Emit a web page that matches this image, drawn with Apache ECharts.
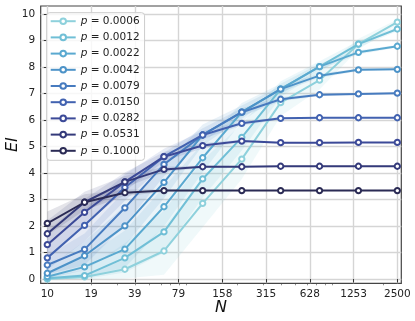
<!DOCTYPE html>
<html>
<head>
<meta charset="utf-8">
<script src="https://cdn.jsdelivr.net/npm/echarts@6/dist/echarts.min.js"></script>
<style>
html,body{margin:0;padding:0;background:#fff;}
#chart{width:415px;height:321px;}
</style>
</head>
<body>
<div id="chart"></div>
<script>
// Network sizes N (x values)
const N = [10, 18, 34, 63, 116, 215, 397, 733, 1354, 2500];
// x tick positions and labels
const tickN = [10, 19.94, 39.76, 79.28, 158.11, 315.29, 628.73, 1253.75, 2500];
const tickLabels = ['10', '19', '39', '79', '158', '315', '628', '1253', '2500'];
const minorTickN = [20, 30, 40, 50, 60, 70, 80, 90, 200, 300, 400, 500, 600, 700, 800, 900, 2000];
const yTicks = [0, 1, 2, 3, 4, 5, 6, 7, 8, 9, 10];

// series names (p)
const pLabels = ['0.0006', '0.0012', '0.0022', '0.0042', '0.0079', '0.0150', '0.0282', '0.0531', '0.1000'];

// mean EI per series
const ei_0006 = [0.00, 0.08, 0.37, 1.06, 2.86, 4.53, 6.66, 7.51, 8.87, 9.70];
const ei_0012 = [0.03, 0.13, 0.80, 1.78, 3.78, 5.35, 7.17, 8.02, 8.87, 9.44];
const ei_0022 = [0.09, 0.46, 1.13, 2.73, 4.58, 6.30, 7.17, 8.02, 8.56, 8.79];
const ei_0042 = [0.22, 0.88, 2.01, 3.65, 5.44, 6.30, 7.17, 7.68, 7.90, 7.92];
const ei_0079 = [0.53, 1.12, 2.69, 4.33, 5.44, 6.30, 6.79, 6.96, 6.99, 7.02];
const ei_0150 = [0.80, 2.03, 3.46, 4.62, 5.44, 5.88, 6.07, 6.09, 6.09, 6.09];
const ei_0282 = [1.30, 2.52, 3.67, 4.62, 5.04, 5.21, 5.15, 5.15, 5.16, 5.16];
const ei_0531 = [1.71, 2.90, 3.67, 4.14, 4.24, 4.24, 4.26, 4.26, 4.26, 4.26];
const ei_1000 = [2.10, 2.90, 3.26, 3.34, 3.34, 3.34, 3.34, 3.34, 3.34, 3.34];

// spread (std) per series, for the shaded bands
const sd_0006 = [0.03, 0.12, 0.35, 0.90, 0.90, 0.75, 0.50, 0.35, 0.20, 0.10];
const sd_0012 = [0.06, 0.20, 0.55, 0.80, 0.70, 0.50, 0.30, 0.20, 0.12, 0.08];
const sd_0022 = [0.10, 0.35, 0.70, 0.75, 0.55, 0.35, 0.20, 0.12, 0.08, 0.05];
const sd_0042 = [0.20, 0.55, 0.75, 0.60, 0.40, 0.25, 0.12, 0.08, 0.05, 0.03];
const sd_0079 = [0.35, 0.60, 0.65, 0.45, 0.25, 0.15, 0.08, 0.05, 0.03, 0.02];
const sd_0150 = [0.45, 0.60, 0.50, 0.30, 0.15, 0.08, 0.05, 0.03, 0.02, 0.02];
const sd_0282 = [0.50, 0.50, 0.35, 0.18, 0.10, 0.05, 0.03, 0.02, 0.02, 0.02];
const sd_0531 = [0.50, 0.40, 0.22, 0.10, 0.05, 0.03, 0.02, 0.02, 0.02, 0.02];
const sd_1000 = [0.45, 0.30, 0.12, 0.05, 0.03, 0.02, 0.02, 0.02, 0.02, 0.02];

const colors = ['#8ed1dc', '#70bfd6', '#5aa9d0', '#4d93c8', '#477bbf', '#4262b0', '#3c4a98', '#343a7a', '#2b2b55'];

const EI = [ei_0006, ei_0012, ei_0022, ei_0042, ei_0079, ei_0150, ei_0282, ei_0531, ei_1000];
const SD = [sd_0006, sd_0012, sd_0022, sd_0042, sd_0079, sd_0150, sd_0282, sd_0531, sd_1000];

// log-scale mapping: tick i (0..8) sits at position i
const LOGSPAN = Math.log(2500 / 10);
const u = n => 8 * Math.log(n / 10) / LOGSPAN;

const FONT = 'DejaVu Sans';
const series = [];

// bands (under all lines)
EI.forEach((arr, k) => {
  const xs = N.map(u);
  const lo = arr.map((v, i) => Math.max(0, v - SD[k][i]));
  const hi = arr.map((v, i) => v + SD[k][i]);
  series.push({
    type: 'custom',
    silent: true,
    z: 1,
    data: xs.map((x, i) => [x, lo[i], hi[i]]),
    encode: { x: 0, y: [1, 2] },
    renderItem: function (params, api) {
      if (params.dataIndex !== 0) return null;
      const pts = [];
      for (let i = 0; i < xs.length; i++) pts.push(api.coord([xs[i], hi[i]]));
      for (let i = xs.length - 1; i >= 0; i--) pts.push(api.coord([xs[i], lo[i]]));
      return {
        type: 'polygon',
        shape: { points: pts },
        style: { fill: colors[k], opacity: 0.13 }
      };
    }
  });
});

// lines
EI.forEach((arr, k) => {
  series.push({
    type: 'line',
    name: pLabels[k],
    z: 2 + k * 0.01,
    data: N.map((n, i) => [u(n), arr[i]]),
    symbol: 'emptyCircle',
    symbolSize: 5.3,
    color: colors[k],
    lineStyle: { color: colors[k], width: 2 },
    itemStyle: { color: colors[k], borderColor: colors[k], borderWidth: 1.7 },
    emphasis: { disabled: true },
    animation: false
  });
});

const chart = echarts.init(document.getElementById('chart'), null, { renderer: 'canvas' });
chart.setOption({
  animation: false,
  backgroundColor: '#fff',
  grid: {
    left: 40.7, right: 13.7, top: 6, bottom: 37.7,
    containLabel: false, outerBoundsMode: 'none',
    show: true, borderColor: '#444', borderWidth: 1.2, backgroundColor: 'transparent'
  },
  legend: {
    data: pLabels,
    orient: 'vertical',
    left: 46.7, top: 12.7,
    itemWidth: 25, itemHeight: 7, itemGap: 5.2,
    padding: [3, 5, 4, 3],
    backgroundColor: 'rgba(255,255,255,0.8)',
    borderColor: '#cccccc', borderWidth: 1, borderRadius: 3,
    formatter: n => '{i|p} = ' + n,
    textStyle: {
      fontSize: 10.5, color: '#222', fontFamily: FONT,
      rich: { i: { fontStyle: 'italic', fontSize: 10.5, color: '#222', fontFamily: FONT } }
    },
    selectedMode: false
  },
  xAxis: [{
    type: 'value',
    position: 'bottom',
    min: -0.151, max: 8.091, interval: 1,
    axisLine: { show: false },
    axisTick: { show: true, customValues: tickN.map(u), length: 3.5, lineStyle: { color: '#333', width: 1 } },
    axisLabel: {
      customValues: tickN.map(u),
      formatter: v => tickLabels[Math.round(v)],
      fontSize: 10.5, color: '#222', fontFamily: FONT, margin: 5
    },
    splitLine: { show: true, lineStyle: { color: '#d5d5d5', width: 1.4 } },
    name: 'N', nameLocation: 'middle', nameGap: 17, nameMoveOverlap: false,
    nameTextStyle: { fontStyle: 'italic', fontSize: 16, fontFamily: FONT, color: '#111' }
  }, {
    type: 'value',
    position: 'bottom',
    min: -0.151, max: 8.091, interval: 1,
    axisLine: { show: false },
    axisTick: { show: true, customValues: minorTickN.map(u), length: 2, lineStyle: { color: '#444', width: 0.6 } },
    axisLabel: { show: false },
    splitLine: { show: false }
  }],
  yAxis: {
    type: 'value',
    min: -0.16, max: 10.31, interval: 1,
    axisLine: { show: false },
    axisTick: { show: true, customValues: yTicks, length: 3.5, lineStyle: { color: '#333', width: 1 } },
    axisLabel: {
      customValues: yTicks,
      formatter: v => String(Math.round(v)),
      fontSize: 10.5, color: '#222', fontFamily: FONT, margin: 5.5
    },
    splitLine: { show: true, lineStyle: { color: '#d5d5d5', width: 1.4 } },
    name: 'EI', nameLocation: 'middle', nameGap: 20, nameMoveOverlap: false,
    nameTextStyle: { fontStyle: 'italic', fontSize: 16, fontFamily: FONT, color: '#111' }
  },
  series: series
});
</script>
</body>
</html>
